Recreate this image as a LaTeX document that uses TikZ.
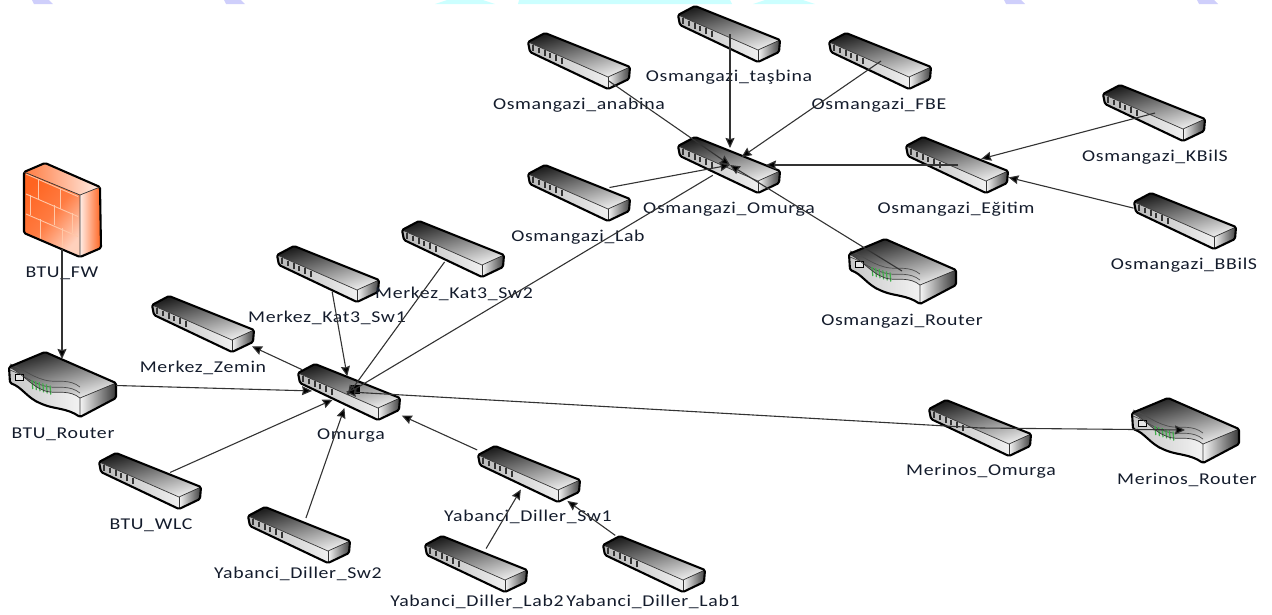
\documentclass[tikz,border=0pt]{standalone}
\usepackage{fontspec}
\setmainfont[FakeStretch=1.2,LetterSpace=4]{Carlito}
\usepackage{tikz}
\usetikzlibrary{arrows.meta}
\definecolor{labeltext}{HTML}{141C2C}
\definecolor{tablav}{HTML}{CFCFFB}
\definecolor{tabcyan}{HTML}{CCFFFF}
\definecolor{brick}{HTML}{FF6420}
\definecolor{brickline}{HTML}{FFC8A8}
\definecolor{ledgreen}{HTML}{3FAE49}
\tikzset{
  spot/.style={inner sep=0pt,minimum size=0pt,outer sep=0pt},
  devlabel/.style={font=\fontsize{16.5}{18}\selectfont,text=labeltext,inner sep=0pt},
  link/.style={-{Stealth[length=10pt,width=9pt,inset=1pt]},line width=1.1pt,draw=black!80},
  outline/.style={draw=black,line width=2.1pt,line join=round,rounded corners=1.5pt},
  switchicon/.pic={
    \shade[top color=black!88,bottom color=black!8,shading angle=15] (-33,-28) -- (52,6) -- (30,16) -- (-50,-19) -- cycle;
    \shade[left color=black!28,right color=black!6] (-50,-19) -- (30,16) -- (30,28) -- (-48,-9) -- cycle;
    \shade[left color=black!4,right color=black!75] (30,16) -- (52,6) -- (51,18) -- (30,28) -- cycle;
    \foreach \i in {0,...,5}
      \fill[black!80] ({-46+5.8*\i},{-16+2.6*\i}) rectangle ++(2,5.5);
    \draw[black!80,line width=.7pt] (-50,-19) -- (30,16) -- (52,6);
    \draw[black!80,line width=.7pt] (30,16) -- (30,28);
    \draw[outline] (-33,-28) -- (52,6) -- (51,18) -- (30,28) -- (-48,-9) -- (-50,-19) -- cycle;
  },
  routericon/.pic={
    \shade[top color=black!88,bottom color=black!6,shading angle=15] (-17,-32) -- (54,-1) -- (18,14) .. controls (8,6) and (-4,9) .. (-12,8) .. controls (-28,6) and (-38,-10) .. (-53,-17) -- cycle;
    \shade[left color=black!22,right color=black!5] (-53,-17) .. controls (-38,-10) and (-28,6) .. (-12,8) .. controls (-4,9) and (8,6) .. (18,14) -- (18,33) .. controls (5,24) and (-8,25) .. (-20,20) .. controls (-35,14) and (-40,3) .. (-52,-1) -- cycle;
    \shade[left color=black!4,right color=black!78] (18,14) -- (54,-1) -- (54,14) -- (18,33) -- cycle;
    \foreach \d in {5,11}
      \draw[black!70,line width=.7pt,yshift=\d] (-52,-9) .. controls (-38,-4) and (-28,6) .. (-12,8) .. controls (-4,9) and (8,6) .. (18,14);
    \draw[black,fill=white!90!black,line width=.9pt] (-47,-10) rectangle (-39,-4);
    \foreach \i in {0,...,5}
      \draw[ledgreen,line width=1.2pt] ({-30+3.6*\i},{-4+1.1*\i}) -- ++(.8,9);
    \draw[black!80,line width=.7pt] (18,14) -- (54,-1) (18,14) -- (18,33);
    \draw[black!80,line width=.7pt] (-53,-17) .. controls (-38,-10) and (-28,6) .. (-12,8) .. controls (-4,9) and (8,6) .. (18,14);
    \draw[outline] (-17,-32) -- (54,-1) -- (54,14) -- (18,33) .. controls (5,24) and (-8,25) .. (-20,20) .. controls (-35,14) and (-40,3) .. (-52,-1) -- (-53,-17) -- cycle;
  },
  firewallicon/.pic={
    \shade[left color=brick,right color=brick!30!white,middle color=brick!85!white,shading angle=50] (-38,-38) -- (18,-15) -- (18,47) -- (-38,23) -- cycle;
    \shade[left color=brick!85!white,right color=brick!12!white] (-17,-47) -- (38,-23) -- (18,-15) -- (-38,-38) -- cycle;
    \shade[left color=brick!12!white,right color=brick] (18,-15) -- (38,-23) -- (39,38) -- (18,47) -- cycle;
    \foreach \d in {-17,3,23}
      \draw[brickline,line width=.9pt] (-36,{\d-19}) -- (16,{\d+3.5});
    \foreach \x/\y/\h in {-24/-31/20,-2/-21/20,-32/-15/20,-8/-5/20,10/3/20,-22/9/20,0/18/20}
      \draw[brickline,line width=.9pt] (\x,\y) -- ++(0,\h);
    \draw[outline] (-17,-47) -- (38,-23) -- (39,38) -- (18,47) -- (-38,23) -- (-38,-38) -- cycle;
    \draw[black!80,line width=.7pt] (-38,-38) -- (18,-15) -- (38,-23) (18,-15) -- (18,47);
  }
}
\begin{document}
\begin{tikzpicture}[x=1pt,y=-1pt]
  \useasboundingbox (0,0) rectangle (1272,614);
  \foreach \x in {32,224,1004,1197}
    \fill[tablav] (\x,0) -- ({\x+17},0) -- ({\x+21},4) -- ({\x+2},4) -- cycle;
  \fill[tabcyan] (447,0) -- (483,0) -- (495,4) -- (435,4) -- cycle;
  \fill[tabcyan] (519,0) -- (730,0) -- (732,4) -- (518,4) -- cycle;
  \fill[tabcyan] (765,0) -- (803,0) -- (815,4) -- (753,4) -- cycle;

  \foreach \id/\cx/\cy/\txt/\lx/\ly in {
    osmtasbina/730/34/Osmangazi\_taşbina/729/77,
    osmanabina/580/61/Osmangazi\_anabina/579/105,
    osmfbe/881/61/Osmangazi\_FBE/879/105,
    osmomurga/730/165/Osmangazi\_Omurga/729/209,
    osmlab/580/193/Osmangazi\_Lab/578/237,
    osmegitim/958/165/Osmangazi\_Eğitim/956/209,
    osmkbils/1155/113/Osmangazi\_KBilS/1155/157,
    osmbbils/1186/221/Osmangazi\_BBilS/1184/265,
    zemin/204/324/Merkez\_Zemin/203/368,
    katsw1/329/274/Merkez\_Kat3\_Sw1/327/318,
    katsw2/454/249/Merkez\_Kat3\_Sw2/454/294,
    omurga/350/392/Omurga/351/436,
    wlc/151/481/BTU\_WLC/151/525,
    ydsw2/300/535/Yabanci\_Diller\_Sw2/298/574,
    ydsw1/530/474/Yabanci\_Diller\_Sw1/528/517,
    ydlab2/477/564/Yabanci\_Diller\_Lab2/477/602,
    ydlab1/655/564/Yabanci\_Diller\_Lab1/653/602,
    merinosomurga/981/428/Merinos\_Omurga/981/471}
  {
    \pic at ({\cx-2},\cy) {switchicon};
    \node[spot] (\id) at (\cx,\cy) {};
    \node[devlabel] (\id-label) at (\lx,\ly) {\txt};
  }
  \foreach \id/\cx/\cy/\txt/\lx/\ly in {
    btrouter/62/384/BTU\_Router/63/434,
    osmrouter/902/271/Osmangazi\_Router/902/321,
    merinosrouter/1185/430/Merinos\_Router/1187/480}
  {
    \pic at (\cx,\cy) {routericon};
    \node[spot] (\id) at (\cx,\cy) {};
    \node[devlabel] (\id-label) at (\lx,\ly) {\txt};
  }
  \pic at (62,210) {firewallicon};
  \node[spot] (btufw) at (62,210) {};
  \node[devlabel] (btufw-label) at (62,273) {BTU\_FW};

  \fill (351,385) rectangle (360,394);
  \path[link]
    (btufw) edge[shorten <=39pt,shorten >=25pt] (btrouter)
    (btrouter) edge[shorten <=54pt,shorten >=38pt] (omurga)
    (wlc) edge[shorten <=21pt,shorten >=19pt] (omurga)
    (ydsw2) edge[shorten <=18pt,shorten >=17pt] (omurga)
    (ydsw1) edge[shorten <=58pt,shorten >=57pt] (omurga)
    (ydlab2) edge[shorten <=18pt,shorten >=18pt] (ydsw1)
    (ydlab1) edge[shorten <=49pt,shorten >=46pt] (ydsw1)
    (omurga) edge[shorten <=53pt,shorten >=53pt] (zemin)
    (katsw1) edge[shorten <=18pt,shorten >=16pt] (omurga)
    (katsw2) edge[shorten <=16pt,shorten >=-4pt] (omurga)
    (osmomurga) edge[shorten <=20pt,shorten >=-4pt] (omurga)
    (merinosomurga) edge[shorten >=-4pt] (omurga)
    (merinosomurga) edge (merinosrouter)
    (osmanabina) edge[shorten <=35pt] (osmomurga)
    (osmlab) edge[shorten <=30pt] (osmomurga)
    (osmrouter) edge (osmomurga)
    (osmtasbina) edge[shorten >=17pt] (osmomurga)
    (osmfbe) edge[shorten >=14pt] (osmomurga)
    (osmegitim) edge[shorten >=36pt] (osmomurga)
    (osmkbils) edge[shorten >=24pt] (osmegitim)
    (osmbbils) edge[shorten <=54pt,shorten >=52pt] (osmegitim);
\end{tikzpicture}
\end{document}
